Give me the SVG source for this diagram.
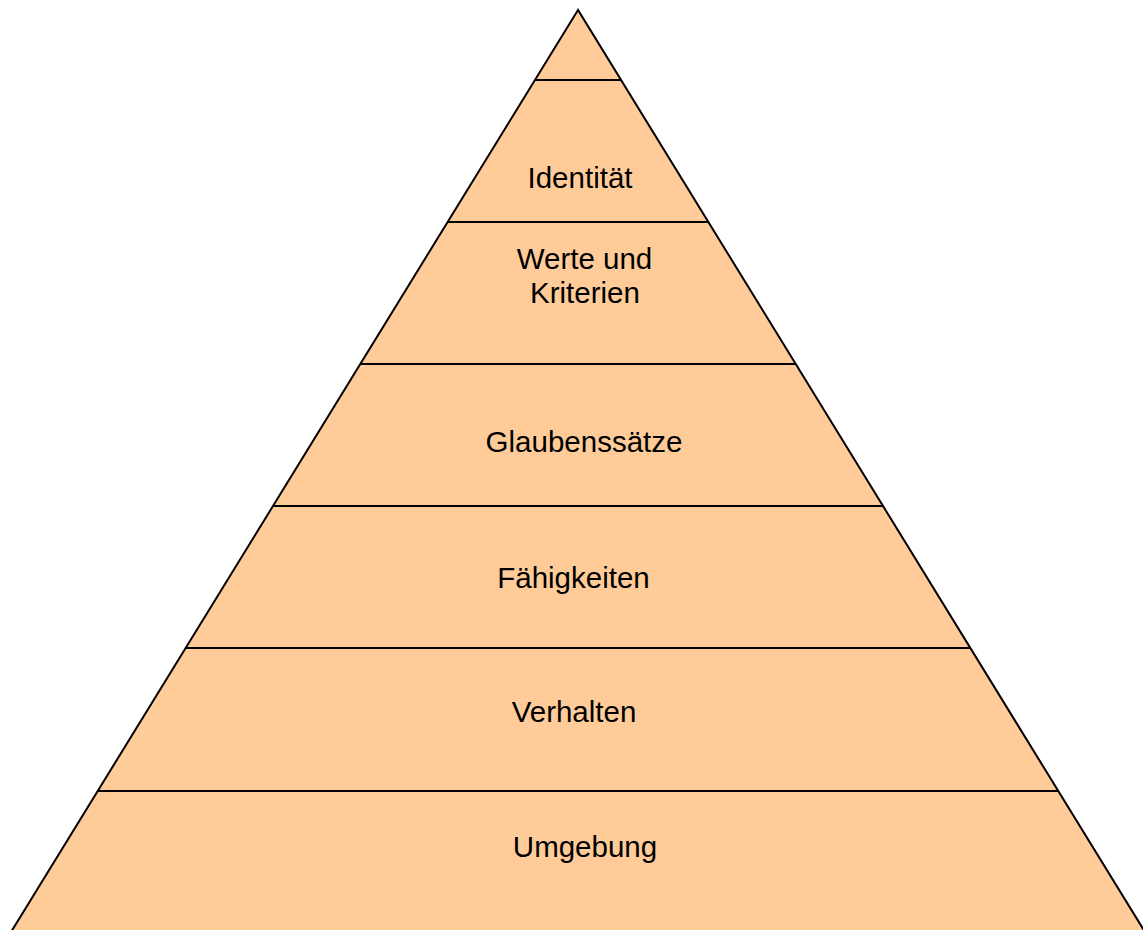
<svg xmlns="http://www.w3.org/2000/svg" width="1143" height="930" viewBox="0 0 1143 930">
<style>
.lbl{font-family:"Liberation Sans",Arial,sans-serif;font-size:29.5px;fill:#000;text-anchor:middle}
.sep{stroke:#000;stroke-width:2;fill:none}
</style>
<rect width="1143" height="930" fill="#fff"/>
<g id="pyramid">
<polygon points="578,10 10.4,933 1145.6,933" fill="#FFCC99" stroke="#000" stroke-width="2" stroke-linejoin="miter"/>
</g>
<g id="connectors">
<line class="sep" x1="535" y1="80" x2="621" y2="80"/>
<line class="sep" x1="447.5" y1="222" x2="708.5" y2="222"/>
<line class="sep" x1="360" y1="364" x2="796" y2="364"/>
<line class="sep" x1="272.5" y1="506" x2="883.5" y2="506"/>
<line class="sep" x1="185" y1="648" x2="971" y2="648"/>
<line class="sep" x1="97.5" y1="791" x2="1058.5" y2="791"/>
</g>
<g id="identitaet"><text class="lbl" x="580" y="188">Identität</text></g>
<g id="werte"><text class="lbl" x="584.5" y="269">Werte und</text><text class="lbl" x="585" y="303">Kriterien</text></g>
<g id="glaubenssaetze"><text class="lbl" x="584" y="452">Glaubenssätze</text></g>
<g id="faehigkeiten"><text class="lbl" x="573.5" y="588">Fähigkeiten</text></g>
<g id="verhalten"><text class="lbl" x="574" y="722">Verhalten</text></g>
<g id="umgebung"><text class="lbl" x="585" y="857">Umgebung</text></g>
</svg>
